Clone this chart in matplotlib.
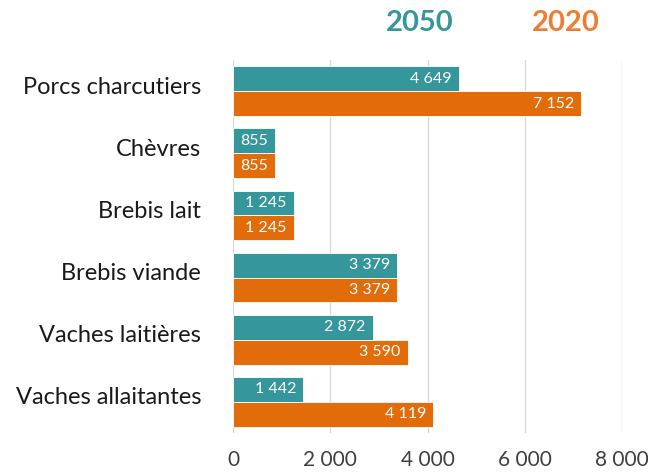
import numpy as np
import matplotlib
matplotlib.use('Agg')
import matplotlib.pyplot as plt
import matplotlib.transforms as mtransforms

plt.rcParams['font.family'] = ['Lato', 'DejaVu Sans']

# data
categories = ['Porcs charcutiers', 'Chèvres', 'Brebis lait', 'Brebis viande',
              'Vaches laitières', 'Vaches allaitantes']
v2050 = [4649, 855, 1245, 3379, 2872, 1442]
v2020 = [7152, 855, 1245, 3379, 3590, 4119]
xticks = [0, 2000, 4000, 6000, 8000]

teal = '#35969C'
orange = '#E36C0A'


def fmt(v):
    return f'{v:,}'.replace(',', ' ')


fig = plt.figure(figsize=(6.48, 4.73), dpi=100)
ax = fig.add_axes([233/648, 1 - 433/473, 389/648, 373/473])

y = np.arange(len(categories))
h = 0.4
b1 = ax.barh(y - h/2, v2050, height=h, color=teal, edgecolor='white', linewidth=0.6)
b2 = ax.barh(y + h/2, v2020, height=h, color=orange, edgecolor='white', linewidth=0.6)

# value labels inside end
for bars, vals in ((b1, v2050), (b2, v2020)):
    for bar, v in zip(bars, vals):
        ax.annotate(fmt(v), (v, bar.get_y() + bar.get_height()/2),
                    xytext=(-5, 0), textcoords='offset points',
                    ha='right', va='center', color='white', fontsize=11.5)

ax.set_xlim(0, 8000)
ax.set_ylim(len(categories) - 0.5, -0.5)
ax.set_xticks(xticks)
ax.set_xticklabels([fmt(t) for t in xticks], fontsize=15, color='#404040')
ax.set_yticks(y)
ax.set_yticklabels(categories, fontsize=17, color='#1a1a1a')
ax.tick_params(axis='both', length=0)
ax.tick_params(axis='x', pad=12)
ax.tick_params(axis='y', pad=23)
# category labels sit a little above the group centre
shift = mtransforms.ScaledTranslation(0, 6/100, fig.dpi_scale_trans)
for lab in ax.get_yticklabels():
    lab.set_transform(lab.get_transform() + shift)
for s in ax.spines.values():
    s.set_visible(False)
ax.grid(axis='x', color='#D9D9D9', linewidth=1)
ax.set_axisbelow(True)

# legend as coloured titles
fig.text(420/648, 1 - 23/473, '2050', color=teal, fontsize=21, fontweight='bold',
         ha='center', va='center')
fig.text(566/648, 1 - 23/473, '2020', color='#ED7D31', fontsize=21, fontweight='bold',
         ha='center', va='center')

plt.savefig('out.png', dpi=100)
